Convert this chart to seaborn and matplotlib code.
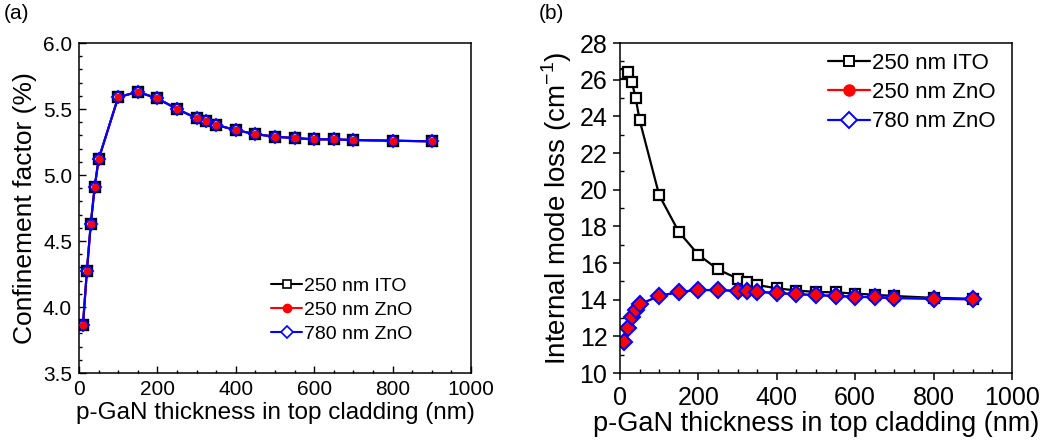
import numpy as np
import pandas as pd
import seaborn as sns
import matplotlib
matplotlib.use("Agg")
import matplotlib.pyplot as plt
from matplotlib.lines import Line2D
from matplotlib.ticker import MultipleLocator

# ---------------- data ----------------
thickness = [10, 20, 30, 40, 50, 100, 150, 200, 250, 300, 325, 350,
             400, 450, 500, 550, 600, 650, 700, 800, 900]

conf_ito = [3.86, 4.27, 4.63, 4.91, 5.12, 5.59, 5.63, 5.58, 5.50, 5.43, 5.41, 5.38,
            5.34, 5.31, 5.29, 5.28, 5.27, 5.27, 5.265, 5.26, 5.255]
conf_zno250 = list(conf_ito)
conf_zno780 = list(conf_ito)

loss_ito = [26.3, 26.4, 25.9, 25.0, 23.8, 19.7, 17.7, 16.45, 15.65, 15.15, 14.95, 14.8,
            14.62, 14.5, 14.42, 14.4, 14.33, 14.27, 14.2, 14.1, 14.05]
loss_zno250 = [11.7, 12.45, 13.05, 13.45, 13.75, 14.2, 14.42, 14.53, 14.52, 14.48, 14.46, 14.43,
               14.36, 14.3, 14.25, 14.2, 14.16, 14.13, 14.09, 14.05, 14.02]
loss_zno780 = list(loss_zno250)

labels = ["250 nm ITO", "250 nm ZnO", "780 nm ZnO"]
xlabel = "p-GaN thickness in top cladding (nm)"
ylabel_a = "Confinement factor (%)"
ylabel_b = r"Internal mode loss (cm$^{\mathregular{-1}}$)"

# ---------------- style ----------------
sns.set_theme(style="ticks")
plt.rcParams["font.family"] = ["Liberation Sans", "DejaVu Sans"]
plt.rcParams["mathtext.fontset"] = "custom"
plt.rcParams["mathtext.rm"] = "Liberation Sans"
plt.rcParams["axes.linewidth"] = 1.1
plt.rcParams["axes.edgecolor"] = "black"
plt.rcParams["text.color"] = "black"
plt.rcParams["axes.labelcolor"] = "black"
plt.rcParams["xtick.color"] = "black"
plt.rcParams["ytick.color"] = "black"

fig = plt.figure(figsize=(10.62, 4.44), dpi=100)
ax1 = fig.add_axes([0.0744, 0.1599, 0.3691, 0.7432])
ax2 = fig.add_axes([0.5838, 0.1599, 0.3691, 0.7432])

# ---------------- panel a ----------------
sns.lineplot(x=thickness, y=conf_ito, ax=ax1, color="black", lw=1.5, marker="s",
             markersize=7, markerfacecolor="white", markeredgecolor="black",
             markeredgewidth=1.7, legend=False)
sns.lineplot(x=thickness, y=conf_zno250, ax=ax1, color="red", lw=1.5, marker="o",
             markersize=4.5, markerfacecolor="red", markeredgecolor="red",
             markeredgewidth=0.5, legend=False)
sns.lineplot(x=thickness, y=conf_zno780, ax=ax1, color="blue", lw=1.6, marker="D",
             markersize=6.5, markerfacecolor="none", markeredgecolor="blue",
             markeredgewidth=1.4, legend=False)
# red dots on top so the centre stays red
ax1.plot(thickness, conf_zno250, ls="none", marker="o", ms=4.5, color="red", zorder=5)

ax1.set_xlim(0, 1000)
ax1.set_ylim(3.5, 6.0)
ax1.xaxis.set_major_locator(MultipleLocator(200))
ax1.xaxis.set_minor_locator(MultipleLocator(50))
ax1.yaxis.set_major_locator(MultipleLocator(0.5))
ax1.yaxis.set_minor_locator(MultipleLocator(0.1))
ax1.yaxis.set_major_formatter(matplotlib.ticker.FormatStrFormatter("%.1f"))
ax1.tick_params(which="both", direction="in", top=False, right=False, width=1.0,
                labelsize=15, colors="black")
ax1.tick_params(which="major", length=5, pad=5)
ax1.tick_params(which="minor", length=2.5)
for s in ax1.spines.values():
    s.set_visible(True)
    s.set_color("black")
ax1.set_xlabel(xlabel, fontsize=17.5, labelpad=2)
ax1.set_ylabel(ylabel_a, fontsize=19, labelpad=4)

handles_a = [
    Line2D([], [], color="black", lw=1.5, marker="s", ms=6, mfc="white", mec="black", mew=1.2),
    Line2D([], [], color="red", lw=1.5, marker="o", ms=6, mfc="red", mec="red"),
    Line2D([], [], color="blue", lw=1.5, marker="D", ms=6, mfc="white", mec="blue", mew=1.2),
]
ax1.legend(handles_a, labels, loc="center left", bbox_to_anchor=(0.49, 0.19),
           frameon=False, fontsize=14, handlelength=1.6, handletextpad=0.1,
           labelspacing=0.32, borderpad=0, borderaxespad=0)

# ---------------- panel b ----------------
sns.lineplot(x=thickness, y=loss_ito, ax=ax2, color="black", lw=1.6, marker="s",
             markersize=6.5, markerfacecolor="white", markeredgecolor="black",
             markeredgewidth=1.6, legend=False)
sns.lineplot(x=thickness, y=loss_zno250, ax=ax2, color="red", lw=1.5, marker="o",
             markersize=6, markerfacecolor="red", markeredgecolor="red", legend=False)
sns.lineplot(x=thickness, y=loss_zno780, ax=ax2, color="blue", lw=1.6, marker="D",
             markersize=8, markerfacecolor="red", markeredgecolor="blue",
             markeredgewidth=1.5, legend=False)

ax2.set_xlim(0, 1000)
ax2.set_ylim(10, 28)
ax2.xaxis.set_major_locator(MultipleLocator(200))
ax2.xaxis.set_minor_locator(MultipleLocator(50))
ax2.yaxis.set_major_locator(MultipleLocator(2))
ax2.yaxis.set_minor_locator(MultipleLocator(1))
ax2.tick_params(which="major", direction="out", length=5, width=1.1, pad=4,
                labelsize=18, colors="black")
ax2.tick_params(which="minor", direction="in", length=3, width=1.0)
for s in ax2.spines.values():
    s.set_visible(True)
    s.set_color("black")
ax2.set_xlabel(xlabel, fontsize=19.5, labelpad=1)
ax2.set_ylabel(ylabel_b, fontsize=20, labelpad=4)

handles_b = [
    Line2D([], [], color="black", lw=1.6, marker="s", ms=7, mfc="white", mec="black", mew=1.4),
    Line2D([], [], color="red", lw=1.6, marker="o", ms=8, mfc="red", mec="red"),
    Line2D([], [], color="blue", lw=1.6, marker="D", ms=8, mfc="white", mec="blue", mew=1.4),
]
ax2.legend(handles_b, labels, loc="center left", bbox_to_anchor=(0.53, 0.85),
           frameon=False, fontsize=16, handlelength=1.9, handletextpad=0.1,
           labelspacing=0.38, borderpad=0, borderaxespad=0)

fig.text(0.004, 0.99, "(a)", fontsize=15, ha="left", va="top")
fig.text(0.507, 0.99, "(b)", fontsize=15, ha="left", va="top")

fig.savefig("out.png", dpi=100)
